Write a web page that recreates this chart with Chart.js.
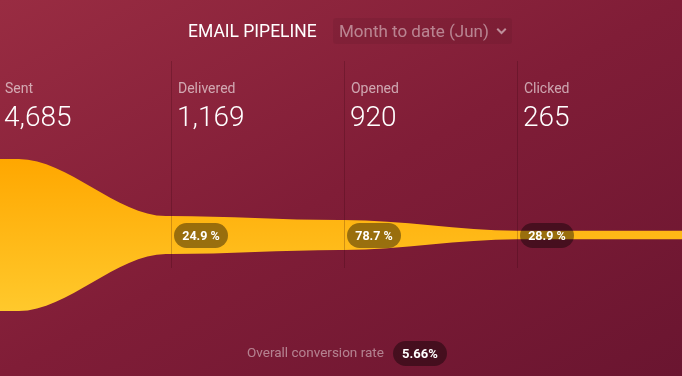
<!DOCTYPE html>
<html>
<head>
<meta charset="utf-8">
<script src="https://cdn.jsdelivr.net/npm/chart.js@4/dist/chart.umd.min.js"></script>
<style>
  html, body { margin: 0; padding: 0; }
  body {
    width: 682px; height: 376px; overflow: hidden; position: relative;
    background: linear-gradient(to bottom right, #992c42 0%, #801d37 50%, #6a1530 100%);
    font-family: Roboto, "Noto Sans", sans-serif;
  }
  #wrap { position: absolute; left: 0; top: 0; width: 682px; height: 376px; }
  .title { position: absolute; top: 23px; left: 188px; font-size: 17.5px; line-height: 17px; color: #fff; white-space: nowrap; }
  .dd { position: absolute; top: 18px; left: 333px; width: 179px; height: 26px; background: rgba(0,0,0,0.06); border-radius: 3px; }
  .ddtext { position: absolute; top: 23px; left: 339px; font-size: 17px; line-height: 17px; color: rgba(255,255,255,0.45); white-space: nowrap; }
  .chev { position: absolute; left: 498px; top: 26px; width: 5px; height: 5px; border-right: 2px solid rgba(255,255,255,0.5); border-bottom: 2px solid rgba(255,255,255,0.5); transform: rotate(45deg); }
  .lab { position: absolute; top: 81px; font-size: 14px; line-height: 14px; color: rgba(255,255,255,0.6); white-space: nowrap; }
  .val { position: absolute; top: 103px; font-size: 28px; line-height: 28px; font-weight: 300; color: #fff; white-space: nowrap; }
  .pill { position: absolute; height: 25px; line-height: 25px; width: 54px; text-align: center; border-radius: 12.5px; background: rgba(0,0,0,0.4); color: #fff; font-weight: 700; font-size: 12.5px; white-space: nowrap; }
  .overall { position: absolute; top: 345px; left: 247px; font-size: 13.5px; line-height: 14px; color: rgba(255,255,255,0.45); white-space: nowrap; }
</style>
</head>
<body>
<div id="wrap"><canvas id="c" width="682" height="376"></canvas></div>
<div class="dd"></div>
<div class="title">EMAIL PIPELINE</div>
<div class="ddtext">Month to date (Jun)</div>
<div class="chev"></div>
<div id="texts"></div>
<div class="overall">Overall conversion rate</div>
<div class="pill" style="left:393px; top:341px; font-size:13px;" id="overallPill"></div>
<script>
// ---- data ----
const stages = ['Sent', 'Delivered', 'Opened', 'Clicked'];
const stageValues = [4685, 1169, 920, 265];
const valueLabels = ['4,685', '1,169', '920', '265'];
const conversionLabels = ['24.9 %', '78.7 %', '28.9 %'];
const overallRate = '5.66%';

// ---- layout constants (style, not data) ----
const X_MIN = 0.0116, X_MAX = 3.954;   // column width ~173px
const LEAD = 0.12;                     // flat start of first stage
const SETTLE = 0.03;                   // short flat run before each column line
const Y_HALF = 5240;

// build funnel outline points from the stage values
function outline(sign) {
  const pts = [];
  const last = stageValues.length - 1;
  stageValues.forEach((v, i) => {
    if (i === 0) { pts.push({x: X_MIN, y: sign * v}); pts.push({x: LEAD, y: sign * v}); }
    else if (i === last) { pts.push({x: i, y: sign * v}); pts.push({x: X_MAX, y: sign * v}); }
    else { pts.push({x: i - SETTLE, y: sign * v}); pts.push({x: i, y: sign * v}); }
  });
  return pts;
}

const linesPlugin = {
  id: 'colLines',
  afterDatasetsDraw(chart) {
    const c = chart.ctx, xs = chart.scales.x;
    c.save();
    c.strokeStyle = 'rgba(40,0,10,0.22)';
    c.lineWidth = 1;
    for (let i = 1; i < stages.length; i++) {
      const px = Math.round(xs.getPixelForValue(i)) + 0.5;
      c.beginPath(); c.moveTo(px, 61); c.lineTo(px, 268); c.stroke();
    }
    c.restore();
  },
  afterLayout(chart) {
    const xs = chart.scales.x, ys = chart.scales.y;
    const box = document.getElementById('texts');
    box.innerHTML = '';
    const cy = ys.getPixelForValue(0);
    stages.forEach((s, i) => {
      const left = xs.getPixelForValue(i) + 7;
      const l = document.createElement('div'); l.className = 'lab'; l.style.left = left + 'px'; l.textContent = s; box.appendChild(l);
      const v = document.createElement('div'); v.className = 'val'; v.style.left = (left - 1) + 'px'; v.textContent = valueLabels[i]; box.appendChild(v);
      if (i > 0) {
        const p = document.createElement('div'); p.className = 'pill';
        p.style.left = (xs.getPixelForValue(i) + 3) + 'px';
        p.style.top = (cy - 12.5) + 'px';
        p.textContent = conversionLabels[i - 1];
        box.appendChild(p);
      }
    });
  }
};

document.getElementById('overallPill').textContent = overallRate;

function funnelFill(ctx) {
  const chart = ctx.chart;
  if (!chart.chartArea) return '#FFB60F';
  const ys = chart.scales.y;
  const g = chart.ctx.createLinearGradient(0, ys.getPixelForValue(stageValues[0]), 0, ys.getPixelForValue(-stageValues[0]));
  g.addColorStop(0, '#FFA700');
  g.addColorStop(0.5, '#FFB816');
  g.addColorStop(1, '#FFC92C');
  return g;
}

new Chart(document.getElementById('c'), {
  type: 'line',
  data: {
    datasets: [
      { data: outline(1), fill: '+1', backgroundColor: funnelFill, borderWidth: 0, borderColor: 'rgba(0,0,0,0)', pointRadius: 0, cubicInterpolationMode: 'monotone' },
      { data: outline(-1), fill: false, borderWidth: 0, borderColor: 'rgba(0,0,0,0)', pointRadius: 0, cubicInterpolationMode: 'monotone' }
    ]
  },
  options: {
    responsive: false,
    animation: false,
    layout: { padding: { top: 150, bottom: 56, left: 0, right: 0 } },
    plugins: { legend: { display: false }, tooltip: { enabled: false } },
    scales: {
      x: { type: 'linear', min: X_MIN, max: X_MAX, display: false },
      y: { min: -Y_HALF, max: Y_HALF, display: false }
    }
  },
  plugins: [linesPlugin]
});
</script>
</body>
</html>
